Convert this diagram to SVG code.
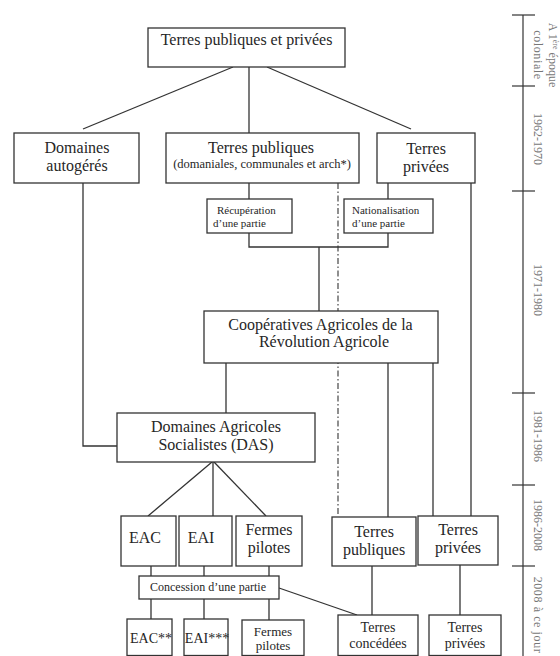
<svg xmlns="http://www.w3.org/2000/svg" width="560" height="656" viewBox="0 0 560 656">
<style>
  .box { fill: #ffffff; stroke: #333333; stroke-width: 1.3; }
  .t { font-family: "Liberation Serif", "DejaVu Serif", serif; fill: #262626; text-anchor: middle; }
  .l { font-family: "Liberation Serif", "DejaVu Serif", serif; fill: #262626; }
  .f16 { font-size: 16px; }
  .f14 { font-size: 14px; }
  .f13 { font-size: 13px; }
  .f12 { font-size: 12px; }
  .f125 { font-size: 12.5px; }
  .f11 { font-size: 11px; }
  .c { fill: none; stroke: #333333; stroke-width: 1.3; }
  .dd { fill: none; stroke: #333333; stroke-width: 1.1; stroke-dasharray: 6 2.5 1.5 2.5; }
  .tl { fill: none; stroke: #333333; stroke-width: 1.2; }
  .tt { font-family: "Liberation Serif", "DejaVu Serif", serif; font-size: 12px; fill: #777777; text-anchor: middle; }
</style>
<rect width="560" height="656" fill="#ffffff"/>

<g id="connectors">
  <line class="c" x1="233" y1="67" x2="83" y2="129"/>
  <line class="c" x1="249" y1="67" x2="249" y2="133"/>
  <line class="c" x1="267" y1="67" x2="411" y2="129"/>
  <polyline class="c" points="83,183 83,446 117,446"/>
  <line class="c" x1="249" y1="183" x2="249" y2="199"/>
  <line class="c" x1="388" y1="183" x2="388" y2="199"/>
  <polyline class="c" points="249,233 249,247 388,247 388,233"/>
  <line class="c" x1="319" y1="247" x2="319" y2="311"/>
  <line class="dd" x1="338" y1="183" x2="338" y2="516"/>
  <line class="c" x1="471" y1="183" x2="471" y2="516"/>
  <line class="c" x1="226" y1="363" x2="226" y2="413"/>
  <line class="c" x1="388" y1="363" x2="388" y2="517"/>
  <line class="c" x1="433" y1="363" x2="433" y2="516"/>
  <line class="c" x1="212" y1="462" x2="148" y2="516"/>
  <line class="c" x1="213" y1="462" x2="213" y2="516"/>
  <line class="c" x1="214" y1="462" x2="266" y2="516"/>
  <line class="c" x1="151" y1="566" x2="151" y2="576"/>
  <line class="c" x1="204" y1="566" x2="204" y2="576"/>
  <line class="c" x1="269" y1="566" x2="269" y2="576"/>
  <line class="c" x1="151" y1="599" x2="151" y2="619"/>
  <line class="c" x1="204" y1="599" x2="204" y2="619"/>
  <line class="c" x1="269" y1="599" x2="269" y2="620"/>
  <line class="c" x1="279" y1="588" x2="357" y2="615"/>
  <line class="c" x1="372" y1="566" x2="372" y2="615"/>
  <line class="c" x1="460" y1="565" x2="460" y2="615"/>
</g>

<g id="timeline">
  <line class="tl" x1="523" y1="15" x2="523" y2="656"/>
  <line class="tl" x1="512" y1="15" x2="535" y2="15"/>
  <line class="tl" x1="512" y1="86" x2="535" y2="86"/>
  <line class="tl" x1="512" y1="191" x2="535" y2="191"/>
  <line class="tl" x1="512" y1="393" x2="535" y2="393"/>
  <line class="tl" x1="512" y1="485" x2="535" y2="485"/>
  <line class="tl" x1="512" y1="566" x2="535" y2="566"/>
  <text class="tt" transform="translate(549,55) rotate(90)">A 1<tspan font-size="8" dy="-4">ère</tspan><tspan dy="4"> époque</tspan></text>
  <text class="tt" transform="translate(534,55) rotate(90)" letter-spacing="0.6">coloniale</text>
  <text class="tt" transform="translate(534,139) rotate(90)">1962-1970</text>
  <text class="tt" transform="translate(534,290) rotate(90)">1971-1980</text>
  <text class="tt" transform="translate(534,436) rotate(90)">1981-1986</text>
  <text class="tt" transform="translate(534,525) rotate(90)">1986-2008</text>
  <text class="tt" transform="translate(534,615) rotate(90)" letter-spacing="0.6">2008 à ce jour</text>
</g>

<g id="n_top">
  <rect class="box" x="148" y="28" width="197" height="39"/>
  <text class="t f16" x="246.5" y="45">Terres publiques et privées</text>
</g>
<g id="n_domaines_autogeres">
  <rect class="box" x="14" y="133" width="125" height="50"/>
  <text class="t f16" x="77" y="153">Domaines</text>
  <text class="t f16" x="77" y="171">autogérés</text>
</g>
<g id="n_terres_publiques">
  <rect class="box" x="166" y="133" width="193" height="50"/>
  <text class="t f16" x="261" y="153">Terres publiques</text>
  <text class="t f125" x="262" y="168">(domaniales, communales et arch*)</text>
</g>
<g id="n_terres_privees">
  <rect class="box" x="377" y="133" width="98" height="50"/>
  <text class="t f16" x="426" y="154">Terres</text>
  <text class="t f16" x="426" y="172">privées</text>
</g>
<g id="n_recuperation">
  <rect class="box" x="207" y="199" width="85" height="34"/>
  <text class="l f11" x="217" y="214">Récupération</text>
  <text class="l f11" x="213" y="227">d’une partie</text>
</g>
<g id="n_nationalisation">
  <rect class="box" x="344" y="199" width="89" height="34"/>
  <text class="l f11" x="352" y="214">Nationalisation</text>
  <text class="l f11" x="352" y="227">d’une partie</text>
</g>
<g id="n_cara">
  <rect class="box" x="204" y="311" width="234" height="52"/>
  <text class="t f16" x="320.5" y="330">Coopératives Agricoles de la</text>
  <text class="t f16" x="324" y="347">Révolution Agricole</text>
</g>
<g id="n_das">
  <rect class="box" x="117" y="413" width="198" height="49"/>
  <text class="t f16" x="216" y="432">Domaines Agricoles</text>
  <text class="t f16" x="216" y="450">Socialistes (DAS)</text>
</g>
<g id="n_eac">
  <rect class="box" x="121" y="516" width="55" height="50"/>
  <text class="t f16" x="145" y="543">EAC</text>
</g>
<g id="n_eai">
  <rect class="box" x="179" y="516" width="53" height="50"/>
  <text class="t f16" x="201" y="543">EAI</text>
</g>
<g id="n_fermes">
  <rect class="box" x="236" y="516" width="66" height="50"/>
  <text class="t f16" x="269" y="535">Fermes</text>
  <text class="t f16" x="269" y="553">pilotes</text>
</g>
<g id="n_terres_publiques_2">
  <rect class="box" x="332" y="517" width="84" height="49"/>
  <text class="t f16" x="374" y="537">Terres</text>
  <text class="t f16" x="374" y="555">publiques</text>
</g>
<g id="n_terres_privees_2">
  <rect class="box" x="418" y="516" width="80" height="49"/>
  <text class="t f16" x="458" y="535">Terres</text>
  <text class="t f16" x="458" y="553">privées</text>
</g>
<g id="n_concession">
  <rect class="box" x="139" y="576" width="140" height="23"/>
  <text class="t f12" x="208" y="591">Concession d’une partie</text>
</g>
<g id="n_eac2">
  <rect class="box" x="127" y="619" width="45" height="36.5"/>
  <text class="t f14" x="151" y="643">EAC**</text>
</g>
<g id="n_eai2">
  <rect class="box" x="184" y="619" width="44" height="36.5"/>
  <text class="t f14" x="207" y="643">EAI***</text>
</g>
<g id="n_fermes2">
  <rect class="box" x="242" y="620" width="62" height="35.5"/>
  <text class="t f13" x="273" y="636">Fermes</text>
  <text class="t f13" x="273" y="650">pilotes</text>
</g>
<g id="n_terres_concedees">
  <rect class="box" x="338" y="615" width="80" height="40.5"/>
  <text class="t f14" x="378" y="632">Terres</text>
  <text class="t f14" x="378" y="648">concédées</text>
</g>
<g id="n_terres_privees_3">
  <rect class="box" x="429" y="615" width="72" height="40.5"/>
  <text class="t f14" x="465" y="632">Terres</text>
  <text class="t f14" x="465" y="648">privées</text>
</g>
</svg>
